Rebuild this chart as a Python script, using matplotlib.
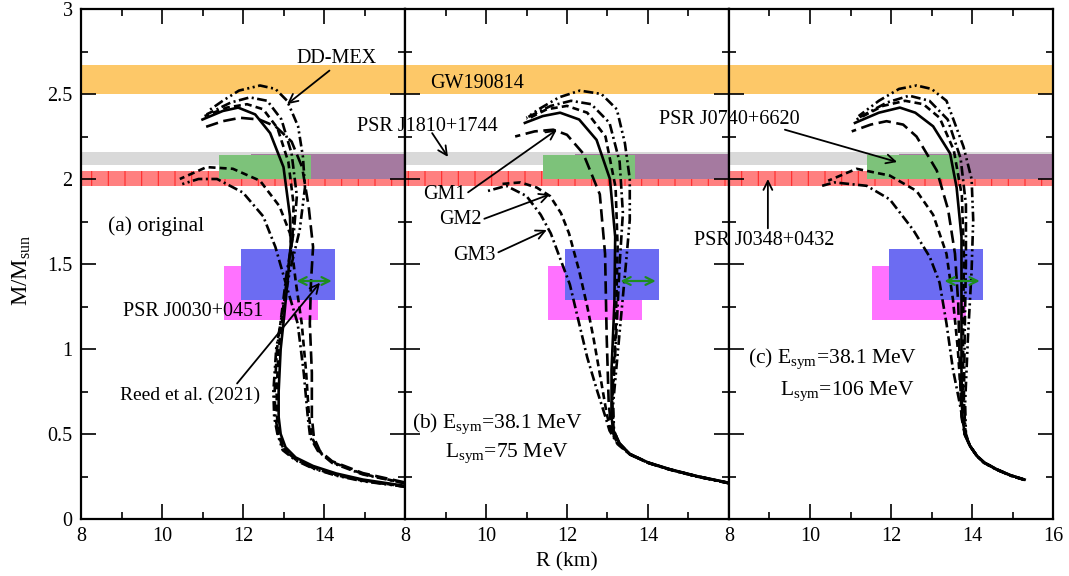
import matplotlib
matplotlib.use('Agg')
import matplotlib.pyplot as plt

plt.rcParams['font.family'] = ['Liberation Serif', 'DejaVu Serif']
plt.rcParams['mathtext.fontset'] = 'custom'
plt.rcParams['mathtext.rm'] = 'Liberation Serif'
plt.rcParams['mathtext.it'] = 'Liberation Serif:italic'
plt.rcParams['lines.scale_dashes'] = False
plt.rcParams['hatch.linewidth'] = 0.8

# ---------------- observational constraints ----------------
GW190814_M = (2.50, 2.67)
J1810_M = (2.08, 2.16)
J0348_M = (1.96, 2.05)
J0740_riley_R = (11.41, 13.69)
J0740_riley_M = (2.00, 2.14)
J0740_miller_R = (12.20, 16.30)
J0740_miller_M = (2.00, 2.15)
J0030_miller_R = (11.96, 14.26)
J0030_miller_M = (1.29, 1.59)
J0030_riley_R = (11.52, 13.85)
J0030_riley_M = (1.17, 1.49)
reed_R = (13.25, 14.26)
reed_M = 1.40

# ---------------- panel (a) original: M-R curves (R km, M/Msun) ----------------
a_ddmex_ddd = [(16, 0.19), (14.96, 0.222), (14.3, 0.255), (13.73, 0.297), (13.3, 0.345), (12.98, 0.405),
               (12.85, 0.5), (12.77, 0.6), (12.75, 0.75), (12.82, 1.0), (12.96, 1.2), (13.15, 1.45),
               (13.4, 1.7), (13.53, 1.95), (13.48, 2.13), (13.36, 2.31), (13.09, 2.46), (12.8, 2.53),
               (12.42, 2.55), (11.9, 2.52), (11.5, 2.46), (11.14, 2.40)]
a_ddmex_dd = [(16, 0.19), (14.96, 0.225), (14.3, 0.258), (13.73, 0.3), (13.3, 0.35), (13.0, 0.41),
              (12.87, 0.5), (12.8, 0.6), (12.78, 0.75), (12.84, 1.0), (12.95, 1.2), (13.08, 1.45),
              (13.26, 1.7), (13.33, 1.9), (13.2, 2.15), (12.95, 2.35), (12.6, 2.46), (12.17, 2.48),
              (11.7, 2.45), (11.1, 2.38)]
a_ddmex_da = [(16, 0.19), (14.96, 0.228), (14.3, 0.262), (13.73, 0.305), (13.3, 0.355), (13.02, 0.415),
              (12.9, 0.5), (12.84, 0.6), (12.83, 0.75), (12.88, 1.0), (12.98, 1.2), (13.1, 1.45),
              (13.22, 1.65), (13.25, 1.85), (13.12, 2.1), (12.85, 2.3), (12.5, 2.41), (12.1, 2.44),
              (11.6, 2.42), (11.05, 2.37)]
a_ddmex_so = [(16, 0.195), (14.96, 0.232), (14.3, 0.268), (13.73, 0.312), (13.3, 0.362), (13.05, 0.422),
              (12.93, 0.5), (12.88, 0.6), (12.88, 0.75), (12.93, 1.0), (13.02, 1.2), (13.12, 1.45),
              (13.18, 1.62), (13.16, 1.78), (13.0, 2.07), (12.67, 2.27), (12.3, 2.38), (11.88, 2.42),
              (11.5, 2.40), (11.0, 2.35)]
a_gm1 = [(16, 0.215), (14.96, 0.27), (14.2, 0.34), (13.9, 0.4), (13.75, 0.48), (13.7, 0.6), (13.7, 0.86),
         (13.65, 1.15), (13.68, 1.4), (13.73, 1.6), (13.62, 1.84), (13.46, 2.07), (13.2, 2.22),
         (12.8, 2.31), (12.4, 2.35), (11.93, 2.36), (11.5, 2.34), (11.0, 2.30)]
a_gm2 = [(16, 0.21), (14.96, 0.265), (14.2, 0.335), (13.87, 0.4), (13.7, 0.48), (13.63, 0.6), (13.56, 0.86),
         (13.45, 1.15), (13.3, 1.4), (13.16, 1.68), (12.9, 1.84), (12.42, 1.99), (11.75, 2.06),
         (11.1, 2.07), (10.44, 2.0)]
a_gm3 = [(16, 0.21), (14.96, 0.262), (14.2, 0.33), (13.85, 0.4), (13.66, 0.48), (13.6, 0.6), (13.5, 0.86),
         (13.35, 1.15), (13.1, 1.35), (12.8, 1.6), (12.5, 1.78), (12.0, 1.92), (11.36, 2.0),
         (10.9, 2.0), (10.5, 1.97)]

# ---------------- panel (b) Esym=38.1, Lsym=75 ----------------
b_ddmex_ddd = [(16, 0.21), (15.2, 0.25), (14.54, 0.29), (14.0, 0.33), (13.55, 0.38), (13.3, 0.44),
               (13.16, 0.52), (13.14, 0.68), (13.3, 1.1), (13.47, 1.54), (13.55, 1.76),
               (13.55, 2.0), (13.43, 2.21), (13.23, 2.41), (12.85, 2.5), (12.32, 2.52), (11.8, 2.48),
               (11.3, 2.41), (11.0, 2.36)]
b_ddmex_dd = [(16, 0.211), (15.2, 0.251), (14.54, 0.291), (14.0, 0.331), (13.55, 0.381), (13.3, 0.442),
              (13.15, 0.52), (13.12, 0.68), (13.22, 1.1), (13.3, 1.5), (13.38, 1.8),
              (13.3, 2.1), (13.05, 2.33), (12.6, 2.44), (12.1, 2.46), (11.6, 2.43), (11.0, 2.36)]
b_ddmex_da = [(16, 0.212), (15.2, 0.252), (14.54, 0.292), (14.0, 0.332), (13.55, 0.382), (13.3, 0.443),
              (13.14, 0.52), (13.11, 0.68), (13.2, 1.1), (13.25, 1.6), (13.2, 1.95),
              (12.95, 2.25), (12.5, 2.39), (12.0, 2.43), (11.5, 2.41), (11.0, 2.35)]
b_ddmex_so = [(16, 0.213), (15.2, 0.253), (14.54, 0.293), (14.0, 0.333), (13.55, 0.383), (13.3, 0.445),
              (13.14, 0.52), (13.1, 0.6), (13.1, 0.88), (13.17, 1.27), (13.19, 1.66), (13.06, 2.0),
              (12.73, 2.23), (12.3, 2.35), (11.83, 2.39), (11.4, 2.37), (10.96, 2.33)]
b_gm1 = [(16, 0.212), (15.2, 0.252), (14.54, 0.292), (14.0, 0.332), (13.55, 0.382), (13.28, 0.443),
         (13.1, 0.52), (13.03, 0.68), (12.98, 1.07), (12.94, 1.56), (12.81, 1.91),
         (12.4, 2.15), (12.0, 2.26), (11.66, 2.29), (11.2, 2.28), (10.72, 2.25)]
b_gm2 = [(16, 0.211), (15.2, 0.251), (14.54, 0.291), (14.0, 0.331), (13.55, 0.381), (13.26, 0.442),
         (13.08, 0.52), (12.98, 0.62), (12.85, 0.8), (12.65, 1.07), (12.5, 1.25), (12.3, 1.46),
         (12.05, 1.68), (11.85, 1.80), (11.58, 1.9), (11.25, 1.95), (10.85, 1.98), (10.35, 1.97)]
b_gm3 = [(16, 0.21), (15.2, 0.25), (14.54, 0.29), (14.0, 0.33), (13.55, 0.38), (13.25, 0.44),
         (13.05, 0.52), (12.95, 0.6), (12.75, 0.75), (12.5, 0.95), (12.3, 1.15), (12.07, 1.38),
         (11.85, 1.52), (11.6, 1.68), (11.35, 1.79), (11.0, 1.9), (10.5, 1.96), (10.05, 1.93)]

# ---------------- panel (c) Esym=38.1, Lsym=106 ----------------
c_ddmex_ddd = [(15.3, 0.23), (14.95, 0.255), (14.61, 0.29), (14.3, 0.33), (14.12, 0.37), (13.95, 0.43),
               (13.85, 0.5), (13.83, 0.68), (13.9, 1.07), (13.99, 1.46), (14.03, 1.76), (13.99, 2.0),
               (13.79, 2.19), (13.37, 2.46), (13.0, 2.53), (12.63, 2.55), (12.2, 2.53), (11.7, 2.46),
               (11.2, 2.37)]
c_ddmex_dd = [(15.3, 0.23), (14.95, 0.256), (14.61, 0.291), (14.3, 0.331), (14.12, 0.371), (13.95, 0.43),
              (13.84, 0.5), (13.8, 0.7), (13.82, 1.1), (13.85, 1.5), (13.85, 1.85), (13.72, 2.12),
              (13.4, 2.35), (12.95, 2.46), (12.45, 2.49), (11.9, 2.45), (11.2, 2.36)]
c_ddmex_da = [(15.3, 0.231), (14.95, 0.257), (14.61, 0.292), (14.3, 0.332), (14.12, 0.372), (13.95, 0.43),
              (13.83, 0.5), (13.78, 0.7), (13.78, 1.1), (13.8, 1.55), (13.75, 1.9), (13.55, 2.17),
              (13.2, 2.36), (12.8, 2.44), (12.35, 2.46), (11.8, 2.43), (11.15, 2.35)]
c_ddmex_so = [(15.3, 0.232), (14.95, 0.258), (14.61, 0.293), (14.3, 0.333), (14.12, 0.373), (13.95, 0.43),
              (13.83, 0.49), (13.76, 0.6), (13.74, 0.88), (13.74, 1.27), (13.74, 1.66), (13.62, 1.95),
              (13.46, 2.15), (13.04, 2.31), (12.6, 2.39), (12.22, 2.42), (11.7, 2.39), (11.11, 2.33)]
c_gm1 = [(15.3, 0.231), (14.95, 0.257), (14.61, 0.292), (14.3, 0.332), (14.12, 0.372), (13.95, 0.43),
         (13.82, 0.5), (13.74, 0.6), (13.7, 0.88), (13.66, 1.27), (13.58, 1.56), (13.41, 1.82),
         (13.13, 2.05), (12.63, 2.25), (12.3, 2.32), (11.89, 2.34), (11.5, 2.32), (11.03, 2.28)]
c_gm2 = [(15.3, 0.23), (14.95, 0.256), (14.61, 0.291), (14.3, 0.331), (14.12, 0.371), (13.95, 0.43),
         (13.82, 0.5), (13.78, 0.6), (13.72, 0.75), (13.65, 1.0), (13.53, 1.29), (13.37, 1.56),
         (13.04, 1.79), (12.63, 1.93), (11.97, 2.02), (11.15, 2.06), (10.45, 1.99)]
c_gm3 = [(15.3, 0.23), (14.95, 0.255), (14.61, 0.29), (14.3, 0.33), (14.12, 0.37), (13.95, 0.43),
         (13.82, 0.5), (13.76, 0.6), (13.68, 0.7), (13.53, 0.88), (13.37, 1.15), (13.2, 1.39),
         (12.96, 1.54), (12.55, 1.7), (11.97, 1.88), (11.4, 1.96), (10.6, 1.98), (10.3, 1.96)]

# ---------------- styles ----------------
LW = 1.9
ST_DDD = (0, (7, 2.5, 1.5, 2.5, 1.5, 2.5))
ST_DD = (0, (7, 2.5, 1.5, 2.5))
ST_DA = (0, (5, 3))
ST_SO = '-'
ST_LD = (0, (9, 4))

panels = [
    [(a_ddmex_ddd, ST_DDD), (a_ddmex_dd, ST_DD), (a_ddmex_da, ST_DA), (a_ddmex_so, ST_SO),
     (a_gm1, ST_LD), (a_gm2, ST_DA), (a_gm3, ST_DD)],
    [(b_ddmex_ddd, ST_DDD), (b_ddmex_dd, ST_DD), (b_ddmex_da, ST_DA), (b_ddmex_so, ST_SO),
     (b_gm1, ST_LD), (b_gm2, ST_DA), (b_gm3, ST_DD)],
    [(c_ddmex_ddd, ST_DDD), (c_ddmex_dd, ST_DD), (c_ddmex_da, ST_DA), (c_ddmex_so, ST_SO),
     (c_gm1, ST_LD), (c_gm2, ST_DA), (c_gm3, ST_DD)],
]

FS = 14.5
fig = plt.figure(figsize=(10.69, 5.76), dpi=100)
L0, B0 = 81 / 1069, 1 - 519 / 576
W0, H0 = 324 / 1069, 510 / 576
axes = [fig.add_axes([L0 + i * W0, B0, W0, H0]) for i in range(3)]

for i, ax in enumerate(axes):
    ax.set_xlim(8, 16)
    ax.set_ylim(0, 3)
    # bands
    ax.axhspan(*GW190814_M, color='#FDC868', lw=0, zorder=1)
    ax.axhspan(*J1810_M, color='#D9D9D9', lw=0, zorder=1)
    ax.axhspan(*J0348_M, facecolor='#FF8080', edgecolor='#FF2A2A', hatch='|', lw=0, zorder=1.1)
    ax.fill_between(J0740_miller_R, J0740_miller_M[0], J0740_miller_M[1], facecolor='#A57AA0', lw=0, zorder=1.2)
    ax.fill_between(J0740_riley_R, J0740_riley_M[0], J0740_riley_M[1], facecolor='#7DC27A', lw=0, zorder=1.3)
    ax.fill_between(J0030_riley_R, J0030_riley_M[0], J0030_riley_M[1], facecolor='#FF72FF', lw=0, zorder=1.2)
    ax.fill_between(J0030_miller_R, J0030_miller_M[0], J0030_miller_M[1], facecolor='#6C6CF2', lw=0, zorder=1.3)
    ax.annotate('', xy=(reed_R[1], reed_M), xytext=(reed_R[0], reed_M),
                arrowprops=dict(arrowstyle='<->', color='#1E8C1E', lw=1.6, mutation_scale=14), zorder=4)
    # curves
    for pts, ls in panels[i]:
        ax.plot([p[0] for p in pts], [p[1] for p in pts], color='black', lw=LW, ls=ls, zorder=3)
    # ticks
    ax.set_xticks([8, 10, 12, 14, 16])
    ax.set_xticks([9, 11, 13, 15], minor=True)
    ax.set_xticklabels(['8', '10', '12', '14', '16' if i == 2 else ''])
    ax.set_yticks([0, 0.5, 1, 1.5, 2, 2.5, 3])
    ax.set_yticks([0.25, 0.75, 1.25, 1.75, 2.25, 2.75], minor=True)
    if i == 0:
        ax.set_yticklabels(['0', '0.5', '1', '1.5', '2', '2.5', '3'])
    else:
        ax.set_yticklabels([])
    ax.tick_params(which='both', direction='in', top=True, right=True, labelsize=FS, width=1.2)
    ax.tick_params(which='major', length=11, pad=6)
    ax.tick_params(which='minor', length=5)
    for s in ax.spines.values():
        s.set_linewidth(1.6)
        s.set_zorder(6)

ax1, ax2, ax3 = axes
arw = dict(arrowstyle='->', color='black', lw=1.3, mutation_scale=16, shrinkA=0, shrinkB=0)

# panel (a)
ax1.annotate('DD-MEX', xy=(13.09, 2.44), xytext=(14.32, 2.71), ha='center', va='center', fontsize=FS,
             arrowprops=dict(arw, relpos=(0.45, 0.0)), zorder=5)
ax1.text(8.67, 1.72, '(a) original', fontsize=FS + 1, ha='left', va='center', zorder=5)
ax1.text(9.04, 1.22, 'PSR J0030+0451', fontsize=FS, ha='left', va='center', zorder=5)
ax1.annotate('Reed et al. (2021)', xy=(13.9, 1.39), xytext=(8.96, 0.73), ha='left', va='center',
             fontsize=FS - 0.5, arrowprops=dict(arw, relpos=(0.82, 1.0)), zorder=5)

# panel (b)
ax2.text(8.62, 2.56, 'GW190814', fontsize=FS, ha='left', va='center', zorder=5)
ax2.text(6.81, 2.31, 'PSR J1810+1744', fontsize=FS, ha='left', va='center', clip_on=False, zorder=5)
ax2.annotate('', xy=(9.06, 2.13), xytext=(8.67, 2.27), arrowprops=arw, zorder=5)
ax2.annotate('GM1', xy=(11.75, 2.29), xytext=(8.44, 1.91), ha='left', va='center', fontsize=FS,
             arrowprops=dict(arw, relpos=(1.0, 0.5)), zorder=5)
ax2.annotate('GM2', xy=(11.58, 1.91), xytext=(8.84, 1.76), ha='left', va='center', fontsize=FS,
             arrowprops=dict(arw, relpos=(1.0, 0.5)), zorder=5)
ax2.annotate('GM3', xy=(11.5, 1.70), xytext=(9.19, 1.55), ha='left', va='center', fontsize=FS,
             arrowprops=dict(arw, relpos=(1.0, 0.6)), zorder=5)
ax2.text(8.17, 0.535, r'(b) E$_{\rm sym}$=38.1 MeV', fontsize=FS + 1, ha='left', va='baseline', zorder=5)
ax2.text(8.99, 0.365, r'L$_{\rm sym}$=75 MeV', fontsize=FS + 1, ha='left', va='baseline', zorder=5)

# panel (c)
ax3.text(6.27, 2.35, 'PSR J0740+6620', fontsize=FS, ha='left', va='center', clip_on=False, zorder=5)
ax3.annotate('', xy=(12.15, 2.10), xytext=(9.38, 2.29), arrowprops=arw, zorder=5)
ax3.text(7.14, 1.64, 'PSR J0348+0432', fontsize=FS, ha='left', va='center', clip_on=False, zorder=5)
ax3.annotate('', xy=(8.96, 2.0), xytext=(8.96, 1.71), arrowprops=arw, zorder=5)
ax3.text(8.47, 0.92, r'(c) E$_{\rm sym}$=38.1 MeV', fontsize=FS + 1, ha='left', va='baseline', zorder=5)
ax3.text(9.26, 0.73, r'L$_{\rm sym}$=106 MeV', fontsize=FS + 1, ha='left', va='baseline', zorder=5)

fig.text(22 / 1069, 1 - 270 / 576, r'M/M$_{\rm sun}$', rotation=90, ha='center', va='center', fontsize=FS + 2)
fig.text(567 / 1069, 1 - 562 / 576, 'R (km)', ha='center', va='center', fontsize=FS + 1)

fig.savefig('out.png', dpi=100)
